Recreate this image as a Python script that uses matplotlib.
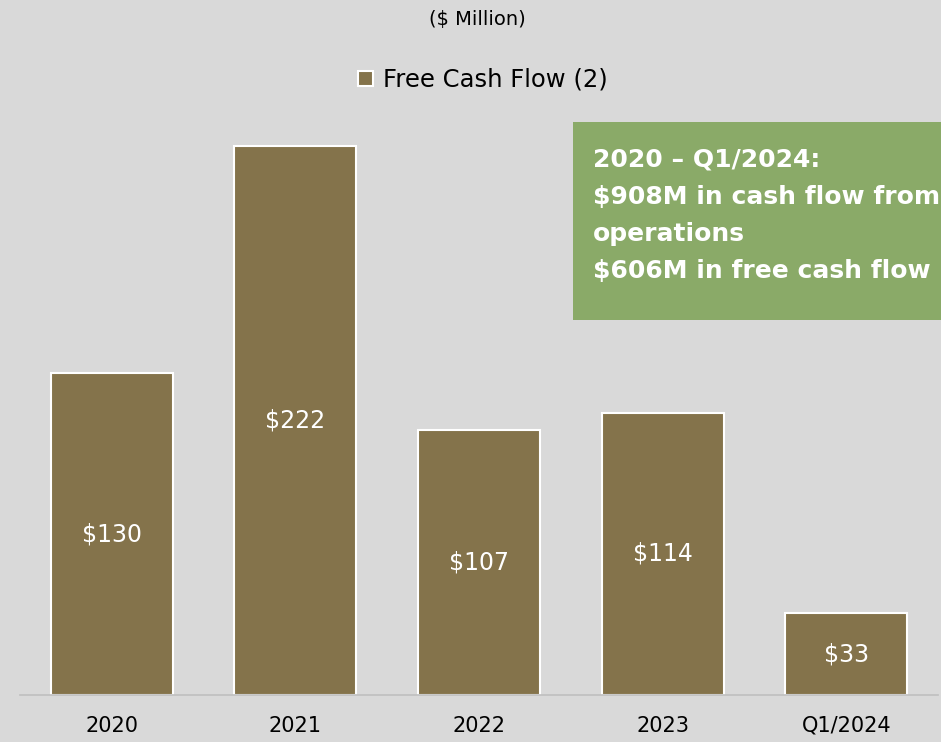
import matplotlib.pyplot as plt
from matplotlib.patches import Rectangle

categories = ['2020', '2021', '2022', '2023', 'Q1/2024']
free_cash_flow = [130, 222, 107, 114, 33]
value_labels = ['$130', '$222', '$107', '$114', '$33']
series_name = 'Free Cash Flow (2)'
box_lines = ['2020 \u2013 Q1/2024:', '$908M in cash flow from', 'operations',
             '$606M in free cash flow']

bg = '#d9d9d9'
bar_color = '#84734b'
box_color = '#8aaa68'

fig = plt.figure(figsize=(9.41, 7.42), dpi=100, facecolor=bg)
ax = fig.add_axes([20 / 941, 47 / 742, 918 / 941, 595 / 742])
ax.set_facecolor(bg)

x = range(len(categories))
bars = ax.bar(x, free_cash_flow, width=0.665, color=bar_color,
              edgecolor='white', linewidth=1.5, label=series_name, zorder=2)
for b, lab in zip(bars, value_labels):
    ax.text(b.get_x() + b.get_width() / 2, b.get_height() / 2, lab,
            ha='center', va='center', color='white', fontsize=17)

ax.set_xlim(-0.5, 4.5)
ax.set_ylim(0, 240.4)
ax.set_yticks([])
ax.set_xticks(list(x))
ax.set_xticklabels(categories, fontsize=15)
ax.tick_params(axis='x', length=0, pad=15, colors='black')
for s in ['top', 'right', 'left']:
    ax.spines[s].set_visible(False)
ax.spines['bottom'].set_color('#bfbfbf')
ax.spines['bottom'].set_linewidth(1.2)

fig.text(477 / 941, 1 - 20 / 742, '($ Million)', ha='center', va='center',
         fontsize=14)
fig.legend(handles=[bars], labels=[series_name], loc='center',
           bbox_to_anchor=(483 / 941, 1 - 80 / 742), frameon=False,
           fontsize=17.5, handlelength=0.6, handleheight=0.6, handletextpad=0.4)

# green callout box
fig.patches.append(Rectangle((573 / 941, 1 - 320 / 742), 0.5, 198 / 742,
                             transform=fig.transFigure, facecolor=box_color,
                             edgecolor='none', zorder=3))
for i, line in enumerate(box_lines):
    fig.text(593 / 941, 1 - (160 + 37 * i) / 742, line, ha='left', va='center',
             color='white', fontsize=18, fontweight='bold', zorder=4)

fig.savefig('out.png', dpi=100, facecolor=bg)
